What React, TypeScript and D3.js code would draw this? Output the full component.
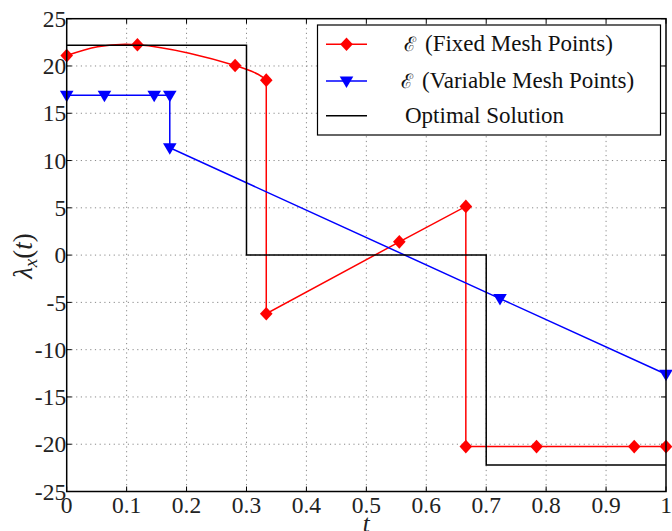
import React, { useEffect, useRef } from "react";
import * as d3 from "d3";

// red: E (fixed mesh points)
const fixedT = [0, 0.118, 0.281, 0.333, 0.333, 0.555, 0.666, 0.666, 0.784, 0.947, 1.0];
const fixedV = [21.1, 22.25, 20.05, 18.5, -6.2, 1.4, 5.15, -20.25, -20.25, -20.25, -20.25];

// blue: E (variable mesh points)
const varT = [0, 0.063, 0.146, 0.172, 0.172, 0.723, 1.0];
const varV = [16.9, 16.9, 16.9, 16.9, 11.35, -4.6, -12.6];

// black: optimal solution
const optT = [0, 0.3, 0.3, 0.7, 0.7, 1];
const optV = [22.2, 22.2, 0, 0, -22.2, -22.2];

const xTicks = [0, 0.1, 0.2, 0.3, 0.4, 0.5, 0.6, 0.7, 0.8, 0.9, 1];
const yTicks = [-25, -20, -15, -10, -5, 0, 5, 10, 15, 20, 25];
const legendLabels = ["(Fixed Mesh Points)", "(Variable Mesh Points)", "Optimal Solution"];

const W = 672;
const H = 531;
const FONT = "'Liberation Serif', 'DejaVu Serif', serif";

const App = () => {
  const svgRef = useRef<SVGSVGElement>(null);

  useEffect(() => {
    const svg = d3.select(svgRef.current);
    svg.selectAll("*").remove();

    const left = 66.7, right = 666, top = 18.7, bottom = 491.5;
    const x = d3.scaleLinear().domain([0, 1]).range([left, right]);
    const y = d3.scaleLinear().domain([-25, 25]).range([bottom, top]);

    // grid
    const grid = svg.append("g");
    xTicks.slice(1, -1).forEach((t) => {
      grid.append("line")
        .attr("x1", x(t)).attr("x2", x(t)).attr("y1", top).attr("y2", bottom)
        .attr("stroke", "#8a8a8a").attr("stroke-width", 1).attr("stroke-dasharray", "1.2,3.5");
    });
    yTicks.slice(1, -1).forEach((v) => {
      grid.append("line")
        .attr("x1", left).attr("x2", right).attr("y1", y(v)).attr("y2", y(v))
        .attr("stroke", "#8a8a8a").attr("stroke-width", 1).attr("stroke-dasharray", "1.2,3.5");
    });

    // ticks (inward on all four sides)
    const tk = svg.append("g").attr("stroke", "#000").attr("stroke-width", 1);
    xTicks.forEach((t) => {
      tk.append("line").attr("x1", x(t)).attr("x2", x(t)).attr("y1", bottom).attr("y2", bottom - 5);
      tk.append("line").attr("x1", x(t)).attr("x2", x(t)).attr("y1", top).attr("y2", top + 5);
    });
    yTicks.forEach((v) => {
      tk.append("line").attr("x1", left).attr("x2", left + 5).attr("y1", y(v)).attr("y2", y(v));
      tk.append("line").attr("x1", right).attr("x2", right - 5).attr("y1", y(v)).attr("y2", y(v));
    });

    // tick labels
    svg.append("g").selectAll("text").data(xTicks).join("text")
      .attr("x", (d) => x(d)).attr("y", bottom + 21)
      .attr("text-anchor", "middle")
      .attr("font-family", FONT).attr("font-size", 23.5).attr("fill", "#222")
      .text((d) => d3.format("~g")(d));
    svg.append("g").selectAll("text").data(yTicks).join("text")
      .attr("x", left - 0.5).attr("y", (d) => y(d)).attr("dy", "0.35em")
      .attr("text-anchor", "end")
      .attr("font-family", FONT).attr("font-size", 23.5).attr("fill", "#222")
      .text((d) => String(d));

    const fixedPts = fixedT.map((t, i) => [x(t), y(fixedV[i])] as [number, number]);
    const varPts = varT.map((t, i) => [x(t), y(varV[i])] as [number, number]);
    const optPts = optT.map((t, i) => [x(t), y(optV[i])] as [number, number]);

    const curved = d3.line().curve(d3.curveNatural);
    const straight = d3.line();

    // red series: smooth first part then straight segments
    svg.append("path").attr("d", curved(fixedPts.slice(0, 4)))
      .attr("fill", "none").attr("stroke", "#ff0000").attr("stroke-width", 1.5);
    svg.append("path").attr("d", straight(fixedPts.slice(3)))
      .attr("fill", "none").attr("stroke", "#ff0000").attr("stroke-width", 1.5);

    const diamond = (cx: number, cy: number) =>
      `M${cx},${cy - 6.8}L${cx + 6.3},${cy}L${cx},${cy + 6.8}L${cx - 6.3},${cy}Z`;
    const triangle = (cx: number, cy: number) =>
      `M${cx - 6.8},${cy - 4.5}L${cx + 6.8},${cy - 4.5}L${cx},${cy + 7}Z`;

    svg.append("g").selectAll("path").data(fixedPts).join("path")
      .attr("d", (d) => diamond(d[0], d[1])).attr("fill", "#ff0000");

    // blue series
    svg.append("path").attr("d", straight(varPts))
      .attr("fill", "none").attr("stroke", "#0000ff").attr("stroke-width", 1.5);
    svg.append("g").selectAll("path").data(varPts).join("path")
      .attr("d", (d) => triangle(d[0], d[1])).attr("fill", "#0000ff");

    // optimal solution
    svg.append("path").attr("d", straight(optPts))
      .attr("fill", "none").attr("stroke", "#000").attr("stroke-width", 1.5);

    // frame
    svg.append("rect")
      .attr("x", left).attr("y", top).attr("width", right - left).attr("height", bottom - top)
      .attr("fill", "none").attr("stroke", "#000").attr("stroke-width", 1.5);

    // legend
    const lg = svg.append("g");
    lg.append("rect").attr("x", 317.5).attr("y", 25).attr("width", 343).attr("height", 110)
      .attr("fill", "#fff").attr("stroke", "#000").attr("stroke-width", 1.2);
    const rowsY = [44.3, 81, 115.7];
    const colors = ["#ff0000", "#0000ff", "#000"];
    rowsY.forEach((ry, i) => {
      lg.append("line").attr("x1", 326).attr("x2", 367).attr("y1", ry).attr("y2", ry)
        .attr("stroke", colors[i]).attr("stroke-width", 1.5);
      if (i === 0) lg.append("path").attr("d", diamond(346.5, ry)).attr("fill", colors[i]);
      if (i === 1) lg.append("path").attr("d", triangle(346.5, ry)).attr("fill", colors[i]);
      const txt = lg.append("text").attr("y", ry + 7).attr("font-family", FONT)
        .attr("font-size", 23).attr("fill", "#111");
      if (i < 2) {
        txt.append("tspan").attr("x", i === 0 ? 404 : 401)
          .attr("font-family", "'DejaVu Serif', serif").attr("font-size", 20).text("\u2130");
        txt.append("tspan").attr("x", i === 0 ? 425 : 422).text(legendLabels[i]);
      } else {
        txt.append("tspan").attr("x", 405).text(legendLabels[i]);
      }
    });

    // axis labels
    svg.append("text").attr("x", x(0.5)).attr("y", 532).attr("text-anchor", "middle")
      .attr("font-family", FONT).attr("font-style", "italic").attr("font-size", 25)
      .attr("fill", "#222").text("t");

    const yl = svg.append("text")
      .attr("transform", "translate(32,256) rotate(-90)")
      .attr("text-anchor", "middle")
      .attr("font-family", FONT).attr("font-size", 27).attr("fill", "#222");
    yl.append("tspan").attr("font-style", "italic").text("λ");
    yl.append("tspan").attr("font-style", "italic").attr("font-size", 19).attr("dy", 5).text("x");
    yl.append("tspan").attr("dy", -5).text("(");
    yl.append("tspan").attr("font-style", "italic").text("t");
    yl.append("tspan").text(")");
  }, []);

  return (
    <svg
      ref={svgRef}
      width={W}
      height={H}
      style={{ position: "absolute", left: 0, top: 0, background: "white", display: "block" }}
    />
  );
};

export default App;
